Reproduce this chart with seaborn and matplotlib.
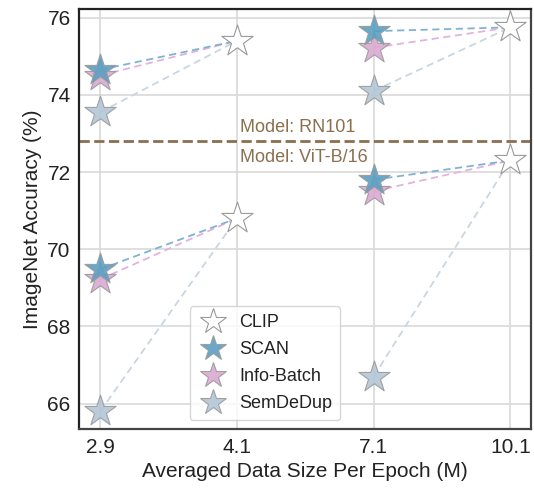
import matplotlib
matplotlib.use("Agg")
import matplotlib.pyplot as plt
import seaborn as sns
import pandas as pd
from matplotlib.lines import Line2D

# ---- data ----
x_labels = ["2.9", "4.1", "7.1", "10.1"]
methods = ["CLIP", "SCAN", "Info-Batch", "SemDeDup"]

# upper group (label above line)
clip_up = {"4.1": 75.4, "10.1": 75.75}
scan_up = {"2.9": 74.65, "7.1": 75.65}
info_up = {"2.9": 74.5, "7.1": 75.22}
sem_up = {"2.9": 73.55, "7.1": 74.1}

# lower group
clip_lo = {"4.1": 70.8, "10.1": 72.3}
scan_lo = {"2.9": 69.48, "7.1": 71.8}
info_lo = {"2.9": 69.22, "7.1": 71.5}
sem_lo = {"2.9": 65.8, "7.1": 66.7}

separator_y = 72.8
label_upper = "Model: RN101"
label_lower = "Model: ViT-B/16"

colors = {"CLIP": "white", "SCAN": "#5b9fc2", "Info-Batch": "#dba9d3", "SemDeDup": "#b3c6d6"}
line_colors = {"SCAN": "#7fb3d3", "Info-Batch": "#e2b3dc", "SemDeDup": "#c9d6e2"}

sns.set_theme(style="whitegrid")
plt.rcParams["font.family"] = ["Liberation Sans", "DejaVu Sans"]

fig, ax = plt.subplots(figsize=(5.34, 4.88), dpi=100)

pos = {lab: i for i, lab in enumerate(x_labels)}

groups = [
    (clip_up, {"SCAN": scan_up, "Info-Batch": info_up, "SemDeDup": sem_up}),
    (clip_lo, {"SCAN": scan_lo, "Info-Batch": info_lo, "SemDeDup": sem_lo}),
]

# dashed connecting lines
for clip, others in groups:
    for m in ["SemDeDup", "Info-Batch", "SCAN"]:
        d = others[m]
        for (a, b) in [("2.9", "4.1"), ("7.1", "10.1")]:
            seg = pd.DataFrame({"x": [pos[a], pos[b]], "y": [d[a], clip[b]]})
            sns.lineplot(data=seg, x="x", y="y", ax=ax, color=line_colors[m],
                         linestyle=(0, (4, 2.5)), linewidth=1.3, zorder=2)

# star markers
rows = []
for clip, others in groups:
    for k, v in clip.items():
        rows.append(("CLIP", pos[k], v))
    for m, d in others.items():
        for k, v in d.items():
            rows.append((m, pos[k], v))
df = pd.DataFrame(rows, columns=["method", "x", "y"])
for m in ["SemDeDup", "Info-Batch", "SCAN", "CLIP"]:
    sub = df[df.method == m]
    sns.scatterplot(data=sub, x="x", y="y", ax=ax, marker="*", s=560,
                    color=colors[m], edgecolor="#9a9a9a", linewidth=0.8,
                    alpha=0.9 if m != "CLIP" else 1.0, zorder=3, legend=False)

ax.axhline(separator_y, color="#8b6f4e", linestyle="--", linewidth=2, zorder=2)
ax.text(1.02, separator_y + 0.13, label_upper, color="#8b6f4e", fontsize=13,
        ha="left", va="bottom")
ax.text(1.02, separator_y - 0.2, label_lower, color="#8b6f4e", fontsize=13,
        ha="left", va="top")

ax.set_xlim(-0.155, 3.15)
ax.set_ylim(65.33, 76.23)
ax.set_xticks(range(len(x_labels)))
ax.set_xticklabels(x_labels)
ax.set_yticks([66, 68, 70, 72, 74, 76])
ax.tick_params(labelsize=15, colors="#222222", length=0, pad=6)
ax.set_xlabel("Averaged Data Size Per Epoch (M)", fontsize=15, color="#222222")
ax.set_ylabel("ImageNet Accuracy (%)", fontsize=15, color="#222222")
ax.grid(True, color="#d9d9d9", linewidth=1.2)

for side, sp in ax.spines.items():
    sp.set_visible(True)
    sp.set_linewidth(1.6)
    sp.set_color("#222222" if side in ("left", "top") else "#444444")

handles = [Line2D([0], [0], marker="*", linestyle="none", markersize=19,
                  markerfacecolor=colors[m], markeredgecolor="#9a9a9a",
                  markeredgewidth=0.8, alpha=0.9 if m != "CLIP" else 1.0)
           for m in methods]
leg = ax.legend(handles, methods, loc="lower left", bbox_to_anchor=(0.225, 0.0),
                fontsize=13, frameon=True, handletextpad=0.6, labelspacing=0.55,
                handlelength=1.7, borderpad=0.45)
leg.get_frame().set_edgecolor("#cccccc")
for t in leg.get_texts():
    t.set_color("#222222")

fig.subplots_adjust(left=0.148, right=0.994, top=0.982, bottom=0.12)
fig.savefig("out.png", dpi=100)
